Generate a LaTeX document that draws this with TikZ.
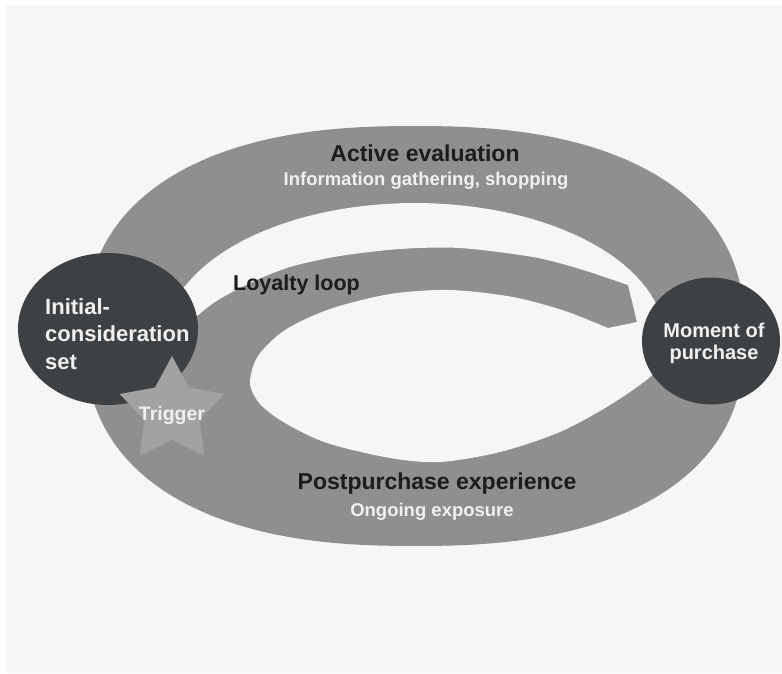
\documentclass[tikz,border=0pt]{standalone}
\usepackage{fontspec}
\setmainfont{Liberation Sans}
\usepackage{tikz}
\usetikzlibrary{shapes.geometric}
\definecolor{pagegray}{RGB}{246,246,246}
\definecolor{ringgray}{RGB}{143,143,143}
\definecolor{stargray}{RGB}{162,162,162}
\definecolor{hubdark}{RGB}{62,65,67}
\definecolor{labeldark}{RGB}{28,28,28}
\definecolor{labellight}{RGB}{240,240,240}

\begin{document}
\begin{tikzpicture}[x=1pt,y=-1pt,
  hub/.style={ellipse,fill=hubdark,inner sep=0pt},
  headlabel/.style={text=labeldark,font=\bfseries\fontsize{23}{27}\selectfont,inner sep=0pt},
  sublabel/.style={text=labellight,font=\bfseries\fontsize{18.5}{22}\selectfont,inner sep=0pt}]
% Page: 782 x 673 px, 1 px = 1 pt, y runs downwards
\useasboundingbox (0,0) rectangle (782,673);
\fill[white] (0,0) rectangle (782,673);
\fill[pagegray] (6,5) rectangle (782,673);

% Outer ring, a slightly squared ellipse
\fill[ringgray] plot[domain=1:361,samples=145,variable=\t]
  ({415+330*cos(\t)*pow(abs(cos(\t)),-0.1667)},{336+210*sin(\t)*pow(abs(sin(\t)),-0.1667)}) -- cycle;

% Gap between ring and loyalty loop, open round the end of the loop
\fill[pagegray] plot[domain=-156:12,samples=60,variable=\t] ({415+250*cos(\t)},{340+137*sin(\t)})
  -- (608,328) -- (637,322)
  -- plot[smooth] coordinates {(628,285) (580,269) (533,257) (460,248) (400,249) (340,256) (290,267) (250,283) (215,302) (190,322)}
  -- (150,320) -- cycle;

% Inner hole
\fill[pagegray] plot[smooth cycle] coordinates {(250,383) (258,356) (285,330) (330,309) (390,294) (450,290) (513,297) (565,311) (608,328) (645,343) (662,358) (650,377) (610,405) (560,432) (500,452) (440,462) (390,458) (327,443) (285,423) (260,404)};

% Hubs and trigger star
\node[hub,minimum width=180pt,minimum height=152pt] (initial) at (108,329) {};
\node[hub,minimum width=138pt,minimum height=127pt] (moment) at (711,341) {};
\node[star,star points=5,star point ratio=1.9,minimum size=110pt,inner sep=0pt,fill=stargray] (trigger) at (172,411) {};

% Labels
\node[headlabel,anchor=base] (evaltitle) at (425,161.7) {Active evaluation};
\node[sublabel,anchor=base] (evalsub) at (426,185.7) {Information gathering, shopping};
\node[headlabel,font=\bfseries\fontsize{21.5}{26}\selectfont,anchor=base west] (loyaltitle) at (233,290.7) {Loyalty loop};
\node[headlabel,anchor=base] (posttitle) at (437,489) {Postpurchase experience};
\node[sublabel,anchor=base] (postsub) at (432,516.7) {Ongoing exposure};
\node[sublabel,font=\bfseries\fontsize{22}{27.5}\selectfont,align=left,anchor=north west] (initialtext) at (45,298) {Initial-\\consideration\\set};
\node[sublabel,font=\bfseries\fontsize{20}{22}\selectfont,align=center,anchor=north] (momenttext) at (714,322.4) {Moment of\\purchase};
\node[sublabel,font=\bfseries\fontsize{19.5}{23}\selectfont,anchor=base] (triggertext) at ([yshift=-9pt]trigger.center) {Trigger};
\end{tikzpicture}
\end{document}
